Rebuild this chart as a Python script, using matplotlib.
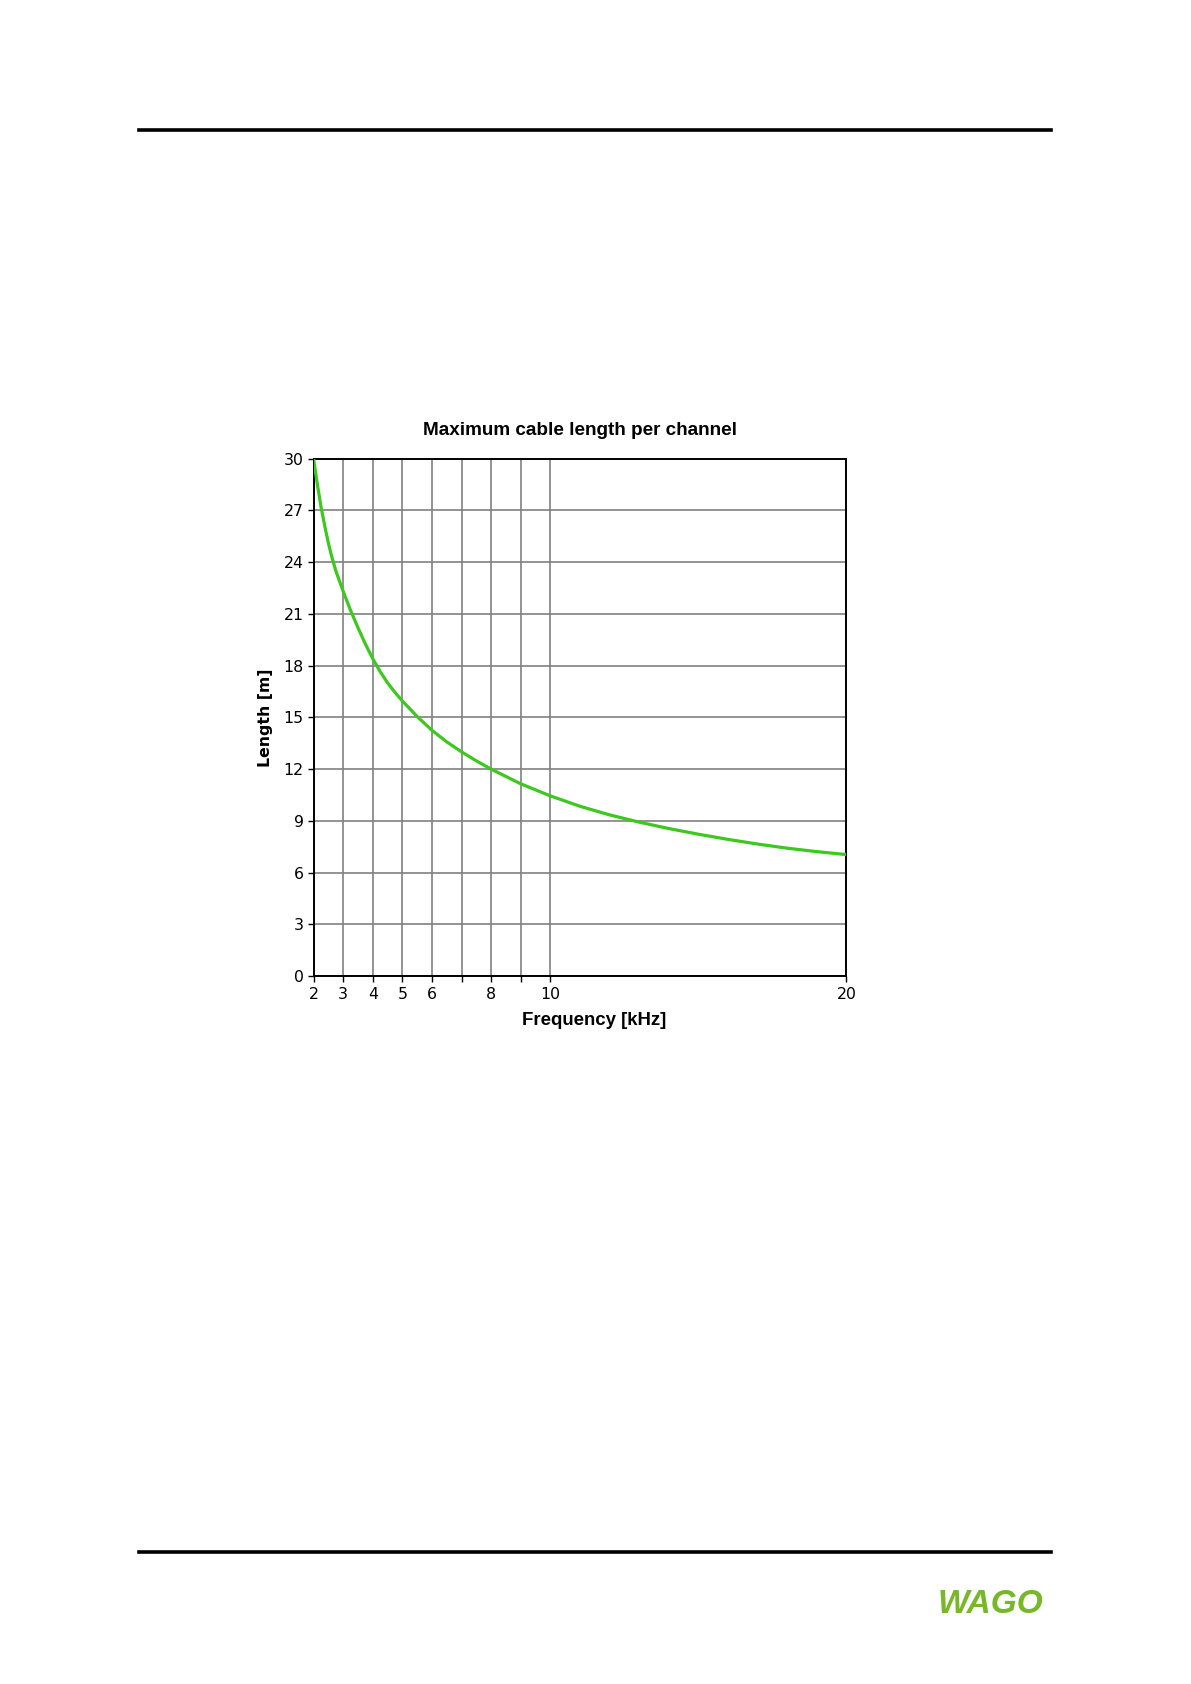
import numpy as np
import matplotlib
matplotlib.use('Agg')
import matplotlib.pyplot as plt
from matplotlib.lines import Line2D

# curve
freq_khz = [2, 2.1, 2.25, 2.4, 2.5, 2.6, 2.75, 3, 3.25, 3.5, 3.75, 4, 4.25, 4.5,
            4.75, 5, 5.5, 6, 6.5, 7, 7.5, 8, 9, 10, 11, 12, 13, 14, 15, 16,
            17, 18, 19, 20]
length_m = [30.0, 28.8, 27.2, 25.9, 25.1, 24.4, 23.5, 22.3, 21.2, 20.2, 19.25,
            18.4, 17.65, 17.0, 16.45, 15.95, 15.05, 14.25, 13.58, 13.0, 12.48,
            12.0, 11.15, 10.45, 9.85, 9.35, 8.93, 8.56, 8.23, 7.93, 7.66, 7.42,
            7.22, 7.05]

x_ticks = [2, 3, 4, 5, 6, 7, 8, 9, 10, 20]
x_labels = ['2', '3', '4', '5', '6', '', '8', '', '10', '20']
y_ticks = [0, 3, 6, 9, 12, 15, 18, 21, 24, 27, 30]

fig = plt.figure(figsize=(11.91, 16.84), dpi=100)
fig.patch.set_facecolor('white')

# page rules
fig.add_artist(Line2D([0.1167, 0.8822], [0.9227, 0.9227], color='black', lw=2.6))
fig.add_artist(Line2D([0.1167, 0.8822], [0.0784, 0.0784], color='black', lw=2.6))

# logo
fig.text(0.832, 0.0472, 'WAGO', color='#78b72a', fontsize=24, fontweight='bold',
         fontstyle='italic', family='Liberation Sans', ha='center', va='center')

ax = fig.add_axes([0.2633, 0.4203, 0.4473, 0.3074])
ax.plot(freq_khz, length_m, color='#3cc81e', lw=2.3, zorder=3)

ax.set_xlim(2, 20)
ax.set_ylim(0, 30)
ax.set_xticks(x_ticks)
ax.set_xticklabels(x_labels)
ax.set_yticks(y_ticks)
ax.tick_params(labelsize=11.3, length=4, width=1.0, color='black')
ax.tick_params(axis='x', pad=4)
ax.tick_params(axis='y', pad=3)
ax.grid(True, color='#808080', lw=1.2)
ax.set_axisbelow(True)
for s in ax.spines.values():
    s.set_linewidth(1.4)
    s.set_color('black')

ax.text(0.5, 1.054, 'Maximum cable length per channel', transform=ax.transAxes,
        ha='center', va='center', fontsize=13.6, fontweight='bold',
        family='Liberation Sans')
ax.text(0.526, -0.085, 'Frequency [kHz]', transform=ax.transAxes,
        ha='center', va='center', fontsize=13.4, fontweight='bold',
        family='Liberation Sans')
ax.text(-0.091, 0.5, 'Length [m]', transform=ax.transAxes, rotation=90,
        ha='center', va='center', fontsize=11.3, fontweight='bold')

fig.savefig('out.png', dpi=100)
